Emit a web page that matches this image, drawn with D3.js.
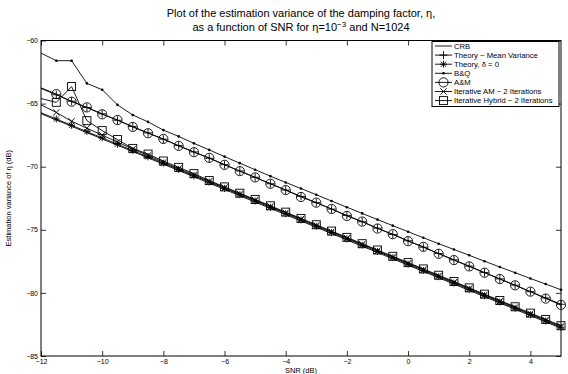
<!DOCTYPE html>
<html>
<head>
<meta charset="utf-8">
<script src="https://cdn.jsdelivr.net/npm/d3@7"></script>
<style>
  html, body { margin: 0; padding: 0; background: #fff; }
  text { font-family: "Liberation Sans", Arial, Helvetica, sans-serif; fill: #000; }
</style>
</head>
<body>
<div id="app"></div>
<script>
// SNR (dB) grid
const snr = [-12, -11.5, -11, -10.5, -10, -9.5, -9, -8.5, -8, -7.5, -7, -6.5, -6, -5.5, -5, -4.5, -4, -3.5,
  -3, -2.5, -2, -1.5, -1, -0.5, 0, 0.5, 1, 1.5, 2, 2.5, 3, 3.5, 4, 4.5, 5];

// estimation variance of eta (dB), one array per curve
const crb = [-65.8, -66.3, -66.8, -67.3, -67.8, -68.3, -68.8, -69.3, -69.8, -70.3, -70.8, -71.3, -71.8, -72.3,
  -72.8, -73.3, -73.8, -74.3, -74.8, -75.3, -75.8, -76.3, -76.8, -77.3, -77.8, -78.3, -78.8, -79.3, -79.8,
  -80.3, -80.8, -81.3, -81.8, -82.3, -82.8];
const theoryMeanVar = [-63.8, -64.3, -64.81, -65.31, -65.81, -66.32, -66.82, -67.32, -67.82, -68.33, -68.83,
  -69.33, -69.84, -70.34, -70.84, -71.35, -71.85, -72.35, -72.85, -73.36, -73.86, -74.36, -74.87, -75.37,
  -75.87, -76.38, -76.88, -77.38, -77.88, -78.39, -78.89, -79.39, -79.9, -80.4, -80.9];
const theoryDelta0 = [-65.72, -66.22, -66.72, -67.22, -67.72, -68.22, -68.72, -69.22, -69.72, -70.22, -70.72,
  -71.22, -71.72, -72.22, -72.72, -73.22, -73.72, -74.22, -74.72, -75.22, -75.72, -76.22, -76.72, -77.22,
  -77.72, -78.22, -78.72, -79.22, -79.72, -80.22, -80.72, -81.22, -81.72, -82.22, -82.72];
const bq = [-61.0, -61.6, -61.6, -63.4, -63.9, -65.1, -65.9, -66.45, -67.1, -67.6, -68.15, -68.67, -69.2,
  -69.72, -70.24, -70.75, -71.25, -71.73, -72.22, -72.72, -73.21, -73.7, -74.19, -74.67, -75.15, -75.63,
  -76.1, -76.56, -77.02, -77.49, -77.95, -78.4, -78.86, -79.3, -79.75];
const am = [-63.75, -64.25, -64.85, -65.3, -65.85, -66.3, -66.85, -67.35, -67.8, -68.35, -68.85, -69.3, -69.85,
  -70.35, -70.85, -71.35, -71.85, -72.4, -72.85, -73.35, -73.9, -74.35, -74.9, -75.35, -75.9, -76.35, -76.9,
  -77.4, -77.9, -78.4, -78.9, -79.4, -79.9, -80.45, -80.95];
const iterAM = [-65.1, -65.7, -66.4, -66.95, -67.5, -68.05, -68.6, -69.1, -69.65, -70.15, -70.65, -71.15,
  -71.65, -72.15, -72.65, -73.15, -73.65, -74.15, -74.65, -75.15, -75.65, -76.15, -76.65, -77.15, -77.65,
  -78.15, -78.65, -79.15, -79.65, -80.15, -80.65, -81.15, -81.65, -82.15, -82.65];
const iterHybrid = [-64.6, -64.9, -63.65, -66.35, -67.14, -67.85, -68.55, -69.0, -69.55, -70.05, -70.55,
  -71.1, -71.6, -72.1, -72.6, -73.1, -73.6, -74.1, -74.6, -75.1, -75.6, -76.1, -76.6, -77.1, -77.6, -78.1,
  -78.6, -79.1, -79.6, -80.1, -80.6, -81.1, -81.6, -82.1, -82.6];

const seriesNames = ["CRB", "Theory \u2212 Mean Variance", "Theory, \u03b4 = 0", "B&Q", "A&M",
  "Iterative AM \u2212 2 Iterations", "Iterative Hybrid \u2212 2 Iterations"];
const seriesValues = [crb, theoryMeanVar, theoryDelta0, bq, am, iterAM, iterHybrid];
const seriesMarkers = ["none", "plus", "star", "dot", "circle", "x", "square"];

const xTicks = [-12, -10, -8, -6, -4, -2, 0, 2, 4];
const yTicks = [-85, -80, -75, -70, -65, -60];

const width = 568, height = 374,
  margin = { top: 40.5, right: 7, bottom: 18, left: 41 },
  plotW = width - margin.left - margin.right,
  plotH = height - margin.top - margin.bottom;

const x = d3.scaleLinear().domain([-12, 5]).range([0, plotW]);
const y = d3.scaleLinear().domain([-85, -60]).range([plotH, 0]);

const svg = d3.select("#app")
.append("svg")
  .attr("width", width)
  .attr("height", height)
  .style("display", "block");

svg.append("rect").attr("width", width).attr("height", height).attr("fill", "#fff");

/* title */
const title = svg.append("text")
  .attr("x", margin.left + plotW / 2)
  .attr("text-anchor", "middle")
  .style("font-size", "11px");
title.append("tspan").attr("x", margin.left + plotW / 2).attr("y", 16.5)
  .text("Plot of the estimation variance of the damping factor, \u03b7,");
const t2 = title.append("tspan").attr("x", margin.left + plotW / 2).attr("y", 30.5);
t2.append("tspan").text("as a function of SNR for \u03b7=10");
t2.append("tspan").attr("dy", -4).style("font-size", "8px").text("\u22123");
t2.append("tspan").attr("dy", 4).text(" and N=1024");

const g = svg.append("g").attr("transform", `translate(${margin.left},${margin.top})`);

g.append("clipPath").attr("id", "clip")
.append("rect").attr("width", plotW).attr("height", plotH);

/* axes, MATLAB style: ticks pointing inward on all four sides */
const tickLen = 5;
const fmt = d => d3.format("d")(d);
g.append("g")
  .attr("transform", `translate(0,${plotH})`)
  .call(d3.axisBottom(x).tickValues(xTicks).tickFormat(fmt).tickSizeInner(-tickLen).tickSizeOuter(0).tickPadding(3));
g.append("g")
  .call(d3.axisTop(x).tickValues(xTicks).tickFormat("").tickSizeInner(-tickLen).tickSizeOuter(0));
g.append("g")
  .attr("class", "yaxis")
  .call(d3.axisLeft(y).tickValues(yTicks).tickFormat(fmt).tickSizeInner(-tickLen).tickSizeOuter(0).tickPadding(3));
g.append("g")
  .attr("transform", `translate(${plotW},0)`)
  .call(d3.axisRight(y).tickValues(yTicks).tickFormat("").tickSizeInner(-tickLen).tickSizeOuter(0));

g.selectAll(".domain").remove();
g.selectAll(".tick line").attr("stroke", "#000").attr("stroke-width", 0.8);
g.selectAll(".tick text").style("font-size", "7px").attr("fill", "#000")
  .style("font-family", "'Liberation Sans', Arial, sans-serif");
g.selectAll(".yaxis .tick text").attr("dy", "0.3em");

/* marker drawer */
function marker(sel, type) {
  const line = (x1, y1, x2, y2) => sel.append("line")
    .attr("x1", x1).attr("y1", y1).attr("x2", x2).attr("y2", y2)
    .attr("stroke", "#000").attr("stroke-width", 0.9);
  if (type === "plus") { line(-4, 0, 4, 0); line(0, -4, 0, 4); }
  else if (type === "x") { line(-3.2, -3.2, 3.2, 3.2); line(-3.2, 3.2, 3.2, -3.2); }
  else if (type === "star") { line(-3.5, 0, 3.5, 0); line(0, -3.5, 0, 3.5); line(-2.6, -2.6, 2.6, 2.6); line(-2.6, 2.6, 2.6, -2.6); }
  else if (type === "circle") sel.append("circle").attr("r", 4.6).attr("fill", "none").attr("stroke", "#000").attr("stroke-width", 0.9);
  else if (type === "square") sel.append("rect").attr("x", -4).attr("y", -4).attr("width", 8).attr("height", 8)
    .attr("fill", "none").attr("stroke", "#000").attr("stroke-width", 0.9);
  else if (type === "dot") sel.append("circle").attr("r", 1.3).attr("fill", "#000");
}

/* curves */
const lineGen = d3.line().x(d => x(d[0])).y(d => y(d[1]));
seriesValues.forEach((vals, i) => {
  const pts = snr.map((s, j) => [s, vals[j]]);
  g.append("path")
    .attr("clip-path", "url(#clip)")
    .attr("d", lineGen(pts))
    .attr("fill", "none")
    .attr("stroke", "#000")
    .attr("stroke-width", 0.9);
  if (seriesMarkers[i] === "none") return;
  // the curves run in from beyond the left edge, so no marker sits on it
  g.append("g").selectAll("g")
  .data(pts.filter(p => p[0] > x.domain()[0]))
  .enter()
  .append("g")
    .attr("transform", d => `translate(${x(d[0])},${y(d[1])})`)
    .each(function () { marker(d3.select(this), seriesMarkers[i]); });
});

/* frame */
g.append("rect")
  .attr("width", plotW).attr("height", plotH)
  .attr("fill", "none").attr("stroke", "#000").attr("stroke-width", 1);

/* legend */
const lg = svg.append("g").attr("transform", "translate(432,41.5)");
lg.append("rect").attr("width", 127).attr("height", 65)
  .attr("fill", "#fff").attr("stroke", "#000").attr("stroke-width", 1);
seriesNames.forEach((name, i) => {
  const row = lg.append("g").attr("transform", `translate(0,${4.5 + i * 9.1})`);
  row.append("line").attr("x1", 3).attr("x2", 20).attr("stroke", "#000").attr("stroke-width", 0.9);
  if (seriesMarkers[i] !== "none") marker(row.append("g").attr("transform", "translate(11.5,0)"), seriesMarkers[i]);
  row.append("text").attr("x", 22).attr("y", 2.7).style("font-size", "7.7px").text(name);
});

/* axis labels */
svg.append("text")
  .attr("x", margin.left + plotW / 2).attr("y", 372.5)
  .attr("text-anchor", "middle").style("font-size", "7.5px")
  .text("SNR (dB)");
svg.append("text")
  .attr("transform", `translate(11,${margin.top + plotH / 2}) rotate(-90)`)
  .attr("text-anchor", "middle").style("font-size", "7.5px")
  .text("Estimation variance of \u03b7 (dB)");
</script>
</body>
</html>
